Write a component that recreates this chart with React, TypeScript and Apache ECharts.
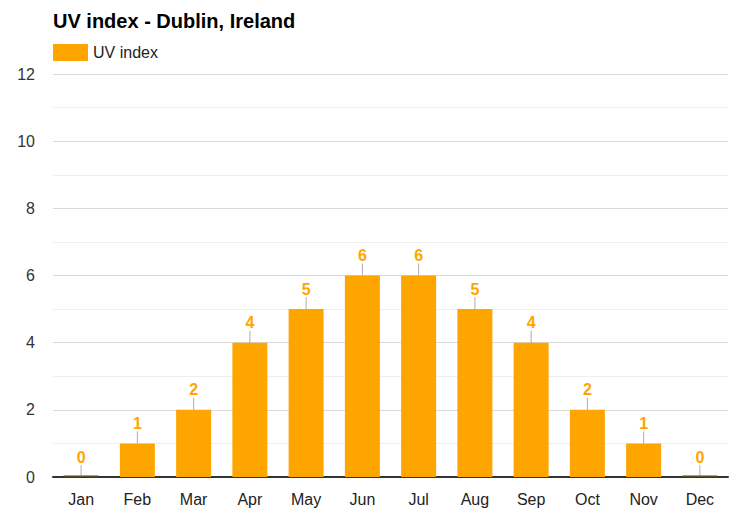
import React, { useEffect, useRef } from "react";
import * as echarts from "echarts";

const months = ["Jan", "Feb", "Mar", "Apr", "May", "Jun", "Jul", "Aug", "Sep", "Oct", "Nov", "Dec"];
const uvIndex = [0, 1, 2, 4, 5, 6, 6, 5, 4, 2, 1, 0];
const titleText = "UV index - Dublin, Ireland";
const seriesName = "UV index";

export default function App() {
  const ref = useRef<HTMLDivElement>(null);
  useEffect(() => {
    if (!ref.current) return;
    const chart = echarts.init(ref.current, undefined, { renderer: "svg" });
    const font = "Arial, 'Liberation Sans', sans-serif";
    chart.setOption({
      animation: false,
      backgroundColor: "#ffffff",
      title: {
        text: titleText,
        left: 53,
        top: 11,
        padding: 0,
        textStyle: { fontFamily: font, fontSize: 20, fontWeight: "bold", color: "#000" },
      },
      legend: {
        data: [seriesName],
        left: 53,
        top: 44,
        padding: 0,
        itemWidth: 35,
        itemHeight: 17,
        itemGap: 5,
        textStyle: { fontFamily: font, fontSize: 16, color: "#222", padding: [0, 0, 0, 0] },
        icon: "rect",
      },
      grid: { left: 53, right: 22, top: 74, bottom: 48, containLabel: false },
      xAxis: {
        type: "category",
        data: months,
        axisLine: { show: true, lineStyle: { color: "#333", width: 2 } },
        axisTick: { show: false },
        axisLabel: { fontFamily: font, fontSize: 16, color: "#222", margin: 14 },
      },
      yAxis: {
        type: "value",
        min: 0,
        max: 12,
        interval: 2,
        axisLine: { show: false },
        axisTick: { show: false },
        axisLabel: { fontFamily: font, fontSize: 16, color: "#333", margin: 18 },
        splitLine: { show: true, lineStyle: { color: "#d9d9d9", width: 1 } },
        minorTick: { show: false, splitNumber: 2 },
        minorSplitLine: { show: true, lineStyle: { color: "#eeeeee", width: 1 } },
      },
      series: [
        {
          name: seriesName,
          type: "bar",
          data: uvIndex,
          barWidth: 35,
          itemStyle: { color: "#FFA500" },
          label: {
            show: true,
            position: "top",
            distance: 12,
            fontFamily: font,
            fontSize: 16,
            fontWeight: "bold",
            color: "#FFA500",
          },
          z: 2,
        },
        {
          name: "leader",
          type: "scatter",
          data: uvIndex,
          symbol: "rect",
          symbolSize: [1, 12],
          symbolOffset: [0, -6],
          itemStyle: { color: "#999999" },
          silent: true,
          z: 3,
        },
        {
          name: "zeroline",
          type: "scatter",
          data: uvIndex.map((v) => (v === 0 ? 0 : null)),
          symbol: "rect",
          symbolSize: [35, 1.5],
          symbolOffset: [0, -1],
          itemStyle: { color: "#7a5a20" },
          silent: true,
          z: 4,
        },
      ],
    });
    return () => chart.dispose();
  }, []);
  return <div ref={ref} style={{ width: 750, height: 525, position: "absolute", left: 0, top: 0 }} />;
}
